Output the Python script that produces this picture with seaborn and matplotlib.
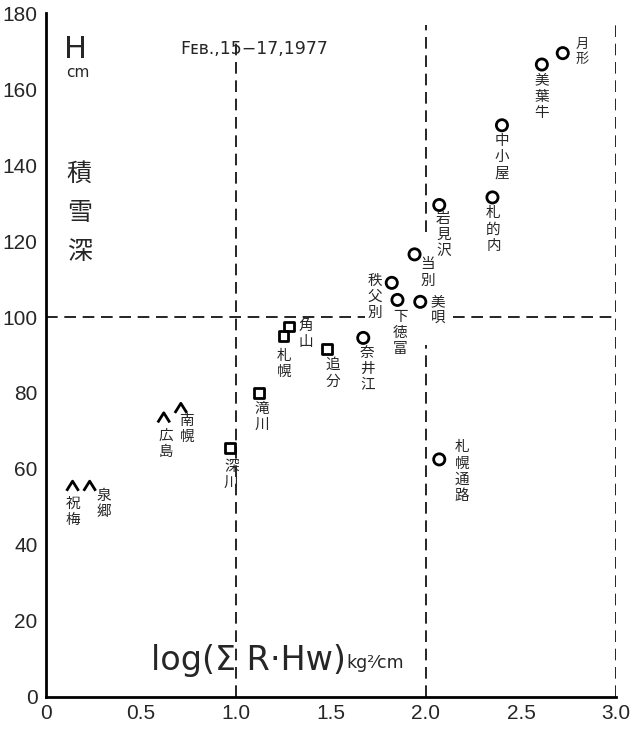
import matplotlib
matplotlib.use("Agg")
import matplotlib.pyplot as plt
import seaborn as sns
import pandas as pd
from matplotlib.path import Path

# ---- data ----
circle_names = ["月形", "美葉牛", "中小屋", "札的内", "岩見沢", "当別", "秩父別", "下徳富", "美唄", "奈井江", "札幌通路"]
circle_x = [2.72, 2.61, 2.40, 2.35, 2.07, 1.94, 1.82, 1.85, 1.97, 1.67, 2.07]
circle_y = [169.5, 166.5, 150.5, 131.5, 129.5, 116.5, 109.0, 104.5, 104.0, 94.5, 62.5]

square_names = ["角山", "札幌", "追分", "滝川", "深川"]
square_x = [1.28, 1.25, 1.48, 1.12, 0.97]
square_y = [97.5, 95.0, 91.5, 80.0, 65.5]

caret_names = ["広島", "南幌", "祝梅", "泉郷"]
caret_x = [0.62, 0.71, 0.14, 0.23]
caret_y = [73.5, 76.0, 55.5, 55.5]

x_ticks = [0, 0.5, 1.0, 1.5, 2.0, 2.5, 3.0]
x_tick_labels = ["0", "0.5", "1.0", "1.5", "2.0", "2.5", "3.0"]
y_ticks = [0, 20, 40, 60, 80, 100, 120, 140, 160, 180]

# ---- label offsets (pixels) ----
circle_off = [(19, 15), (0, -9), (0, -9), (1, -9), (4, -7), (13, -3), (-17, 9), (3, -10), (18, 7), (4, -8), (23, 19)]
square_off = [(17, 8), (1, -13), (6, -9), (3, -9), (1, -12)]
caret_off = [(2, -11), (6, -6), (0, -11), (14, -3)]

sns.set_style("white")
plt.rcParams["font.family"] = ["DejaVu Sans", "Noto Sans CJK JP"]
JP = ["Noto Sans CJK JP", "DejaVu Sans"]
NUM = ["Liberation Sans Narrow", "Liberation Sans", "DejaVu Sans"]

fig = plt.figure(figsize=(6.35, 7.29), dpi=100)
ax = fig.add_axes([0.0724, 0.0443, 0.8976, 0.9375])

df_c = pd.DataFrame({"x": circle_x, "y": circle_y})
df_s = pd.DataFrame({"x": square_x, "y": square_y})
df_k = pd.DataFrame({"x": caret_x, "y": caret_y})

caret = Path([(-1.0, -0.8), (0.0, 0.8), (1.0, -0.8)], [Path.MOVETO, Path.LINETO, Path.LINETO])

sns.scatterplot(data=df_c, x="x", y="y", ax=ax, marker="o", s=65,
                facecolor="none", edgecolor="black", linewidth=2.0, zorder=3)
sns.scatterplot(data=df_s, x="x", y="y", ax=ax, marker="s", s=48,
                facecolor="none", edgecolor="black", linewidth=2.0, zorder=3)
sns.scatterplot(data=df_k, x="x", y="y", ax=ax, marker=caret, s=75,
                facecolor="none", edgecolor="black", linewidth=2.0, zorder=3)

def vlabel(names, xs, ys, offs, fs=10.5):
    for n, x, y, (dx, dy) in zip(names, xs, ys, offs):
        ax.annotate("\n".join(n), (x, y), xytext=(dx, dy), textcoords="offset pixels",
                    ha="center", va="top", fontsize=fs, family=JP, linespacing=1.2)

vlabel(circle_names[:1], circle_x[:1], circle_y[:1], circle_off[:1], fs=9.5)
vlabel(circle_names[1:], circle_x[1:], circle_y[1:], circle_off[1:])
vlabel(square_names, square_x, square_y, square_off)
vlabel(caret_names, caret_x, caret_y, caret_off)

# dashed reference lines (interrupted where the labels sit, as in the original)
dash = dict(color="black", lw=1.2, ls=(0, (7, 4)), zorder=1)
ax.plot([1.0, 1.0], [0, 173], **dash)
ax.plot([2.0, 2.0], [0, 92.5], **dash)
ax.plot([2.0, 2.0], [122.5, 177], **dash)
ax.plot([3.0, 3.0], [0, 177], **dash)
ax.plot([0, 1.68], [100, 100], **dash)
ax.plot([2.14, 3.0], [100, 100], **dash)

ax.set_xlim(0, 3.0)
ax.set_ylim(0, 180)
ax.set_xticks(x_ticks)
ax.set_xticklabels(x_tick_labels, family=NUM, fontsize=15)
ax.set_yticks(y_ticks)
ax.set_yticklabels([str(v) for v in y_ticks], family=NUM, fontsize=15)
ax.tick_params(axis="both", direction="in", length=8, width=1.5, color="black")
ax.tick_params(axis="y", pad=6)
ax.tick_params(axis="x", pad=5)
ax.set_xlabel("")
ax.set_ylabel("")
for s in ["top", "right"]:
    ax.spines[s].set_visible(False)
for s in ["left", "bottom"]:
    ax.spines[s].set_linewidth(2)
    ax.spines[s].set_color("black")

# texts
ax.text(0.155, 170.5, "H", fontsize=22, ha="center", va="center")
ax.text(0.165, 164.5, "cm", fontsize=11, ha="center", va="center")
ax.text(0.175, 141, "積\n雪\n深", fontsize=18, ha="center", va="top", family=JP, linespacing=1.65)
ax.text(0.705, 170.5, "Fᴇʙ.,15−17,1977", fontsize=12.5, ha="left", va="center", family=["DejaVu Sans"])
ax.text(1.58, 9.5, "log(Σ R·Hw)", fontsize=24, ha="right", va="center")
ax.text(1.58, 9.0, "kg²⁄cm", fontsize=12.5, ha="left", va="center")

fig.savefig("out.png", dpi=100)
